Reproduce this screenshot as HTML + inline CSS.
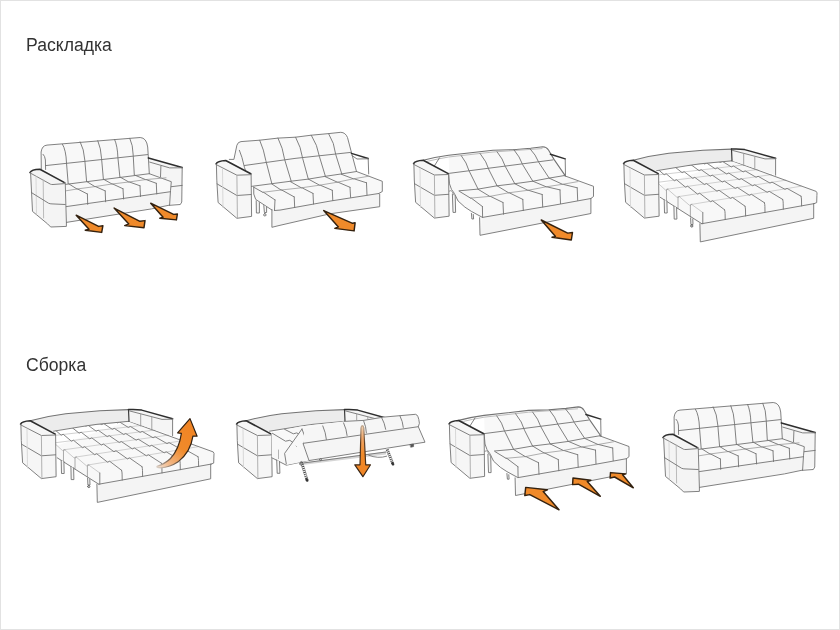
<!DOCTYPE html><html><head><meta charset="utf-8"><style>
html,body{margin:0;padding:0;background:#fff;}
body{width:840px;height:630px;overflow:hidden;position:relative;}
svg{position:absolute;left:0;top:0;}
.t{position:absolute;left:26px;will-change:transform;font-family:"Liberation Sans",sans-serif;font-size:17.6px;color:#333;line-height:1;}
</style></head><body>
<svg width="840" height="630" viewBox="0 0 840 630">
<rect x="0.5" y="0.5" width="839" height="629" fill="#fff" stroke="#e2e2e2" stroke-width="1"/>
<g fill="none" stroke="#737373" stroke-width="0.9" stroke-linejoin="round" stroke-linecap="round">
<g><path d="M41.1,152 Q42,145 47,145 L140,137.5 Q147,138 147.8,148 L149.3,173.5 L65.6,184.4 L45.4,169.3 L41.3,169 Z" fill="#f8f8f8" stroke="none"/><path d="M30,172.5 Q31,169.5 40,169.3 L64.1,182.4 L66.4,222.7 L66.4,226.4 L50.7,227 L47.6,223.9 L32.5,211.4 Z" fill="#f4f4f4" stroke="none"/><path d="M148.4,157.9 L182.2,167.5 L181.7,202 L170,204.6 L170.5,190.8 L171.3,181.7 L149.3,173.5 Z" fill="#f5f5f5" stroke="none"/><path d="M65.6,184.4 L149.3,173.7 L171.3,181.7 L170.5,191.7 L66.3,206.6 Z" fill="#f8f8f8" stroke="none"/><path d="M66.3,206.6 L170.5,191.7 L169.6,205.1 L66.4,222.7 Z" fill="#f4f4f4" stroke="none"/><path d="M41.3,169 L41.1,152 Q42,145.5 47,145.1 L140.2,137.5 Q146.5,137.8 147.7,147 L148.4,157.9 L149.3,173.5" fill="none"/><path d="M43.1,154.3 Q45,156 45.4,160 L45.6,169.5" fill="none"/><path d="M45.4,165.6 L147.6,154.6" fill="none"/><path d="M62.5,144.3 Q66,150 66.5,163 L68.2,183.7" fill="none"/><path d="M80.2,141.9 Q84,149 84.8,160.1 L86.6,181.6" fill="none"/><path d="M97.8,140.7 Q101,148 101.6,158.9 L103.4,179.4" fill="none"/><path d="M114.6,139.5 Q117.5,146 117.9,157.6 L119.9,177.3" fill="none"/><path d="M129.8,138.3 Q133,145 133.2,155.1 L134.3,175" fill="none"/><path d="M65.6,184.4 L149.3,173.7" fill="none"/><path d="M149.3,173.7 L171.3,181.7 L170.5,190.8 L169.6,205.1" fill="none"/><path d="M66.3,206.6 L170.5,191.7" fill="none"/><path d="M66.4,222.4 L151.4,208.9 L169.6,205.1" fill="none"/><path d="M87.4,194 L87.7,204.4" fill="none"/><path d="M105.2,190.9 L105.6,201.8" fill="none"/><path d="M123,188.75 L123.6,199" fill="none"/><path d="M140,185.8 L140.5,196.5" fill="none"/><path d="M156.3,183.3 L156.75,194" fill="none"/><path d="M66.00,190.80 L77.00,189.00 L94.90,186.60 L112.00,184.00 L128.80,182.00 L145.50,179.60 L166.00,177.80" fill="none" stroke="#9a9a9a" stroke-width="0.8"/><path d="M69.00,184.00 L77.00,189.00 L77.90,189.10 L87.40,194.00" fill="none"/><path d="M87.00,181.70 L94.90,186.60 L95.80,186.70 L105.20,190.90" fill="none"/><path d="M104.00,179.50 L112.00,184.00 L112.90,184.10 L123.00,188.75" fill="none"/><path d="M120.50,177.30 L128.80,182.00 L129.70,182.10 L140.00,185.80" fill="none"/><path d="M135.00,175.20 L145.50,179.60 L146.40,179.70 L156.30,183.30" fill="none"/><path d="M30,172.5 Q31.5,169.6 39.9,169.3 L64.1,182.4" fill="none" stroke="#2e2e2e" stroke-width="1.6"/><path d="M30.8,173.3 L50.5,184.2 Q51.5,184.6 53,184.5 L64.9,183.6" fill="none"/><path d="M30.6,173 L32.5,211.4 L47.6,223.9 L50.7,227 L66.4,226.4 L66.4,222.7 L65.2,182.5" fill="none"/><path d="M43.2,180 L43.6,218" fill="none" stroke="#b4b4b4"/><path d="M36,176.5 L36.5,214" fill="none" stroke="#d4d4d4"/><path d="M31.3,192.5 L48.5,203.2 Q50,203.9 52,203.9 L65.2,204.5" fill="none"/><path d="M148.4,157.9 L182.2,167.5" fill="none" stroke="#2e2e2e" stroke-width="1.6"/><path d="M149.7,162.1 L169.7,167.9 L182.2,167.8" fill="none"/><path d="M160.9,166.25 L160.5,176.7" fill="none"/><path d="M182.2,167.5 L181.75,202 L180.3,204.5 L169.6,205.3" fill="none"/><path d="M171.3,186.7 L182.2,185.4" fill="none"/></g>
<g><path d="M76.20,215.20 L98.60,226.40 L102.90,225.70 L101.70,232.40 L85.20,230.20 L89.00,229.30 Z" fill="#f08a2a" stroke="#33210f" stroke-width="1.45"/><path d="M114.10,208.10 L139.90,221.30 L145.00,220.60 L144.00,227.70 L124.70,225.60 L128.80,223.90 Z" fill="#f08a2a" stroke="#33210f" stroke-width="1.45"/><path d="M150.70,203.20 L173.60,214.40 L177.40,214.00 L176.40,219.90 L159.80,218.20 L163.10,217.30 Z" fill="#f08a2a" stroke="#33210f" stroke-width="1.45"/></g>
<g transform="translate(633,265)"><path d="M41.1,152 Q42,145 47,145 L140,137.5 Q147,138 147.8,148 L149.3,173.5 L65.6,184.4 L45.4,169.3 L41.3,169 Z" fill="#f8f8f8" stroke="none"/><path d="M30,172.5 Q31,169.5 40,169.3 L64.1,182.4 L66.4,222.7 L66.4,226.4 L50.7,227 L47.6,223.9 L32.5,211.4 Z" fill="#f4f4f4" stroke="none"/><path d="M148.4,157.9 L182.2,167.5 L181.7,202 L170,204.6 L170.5,190.8 L171.3,181.7 L149.3,173.5 Z" fill="#f5f5f5" stroke="none"/><path d="M65.6,184.4 L149.3,173.7 L171.3,181.7 L170.5,191.7 L66.3,206.6 Z" fill="#f8f8f8" stroke="none"/><path d="M66.3,206.6 L170.5,191.7 L169.6,205.1 L66.4,222.7 Z" fill="#f4f4f4" stroke="none"/><path d="M41.3,169 L41.1,152 Q42,145.5 47,145.1 L140.2,137.5 Q146.5,137.8 147.7,147 L148.4,157.9 L149.3,173.5" fill="none"/><path d="M43.1,154.3 Q45,156 45.4,160 L45.6,169.5" fill="none"/><path d="M45.4,165.6 L147.6,154.6" fill="none"/><path d="M62.5,144.3 Q66,150 66.5,163 L68.2,183.7" fill="none"/><path d="M80.2,141.9 Q84,149 84.8,160.1 L86.6,181.6" fill="none"/><path d="M97.8,140.7 Q101,148 101.6,158.9 L103.4,179.4" fill="none"/><path d="M114.6,139.5 Q117.5,146 117.9,157.6 L119.9,177.3" fill="none"/><path d="M129.8,138.3 Q133,145 133.2,155.1 L134.3,175" fill="none"/><path d="M65.6,184.4 L149.3,173.7" fill="none"/><path d="M149.3,173.7 L171.3,181.7 L170.5,190.8 L169.6,205.1" fill="none"/><path d="M66.3,206.6 L170.5,191.7" fill="none"/><path d="M66.4,222.4 L151.4,208.9 L169.6,205.1" fill="none"/><path d="M87.4,194 L87.7,204.4" fill="none"/><path d="M105.2,190.9 L105.6,201.8" fill="none"/><path d="M123,188.75 L123.6,199" fill="none"/><path d="M140,185.8 L140.5,196.5" fill="none"/><path d="M156.3,183.3 L156.75,194" fill="none"/><path d="M66.00,190.80 L77.00,189.00 L94.90,186.60 L112.00,184.00 L128.80,182.00 L145.50,179.60 L166.00,177.80" fill="none" stroke="#9a9a9a" stroke-width="0.8"/><path d="M69.00,184.00 L77.00,189.00 L77.90,189.10 L87.40,194.00" fill="none"/><path d="M87.00,181.70 L94.90,186.60 L95.80,186.70 L105.20,190.90" fill="none"/><path d="M104.00,179.50 L112.00,184.00 L112.90,184.10 L123.00,188.75" fill="none"/><path d="M120.50,177.30 L128.80,182.00 L129.70,182.10 L140.00,185.80" fill="none"/><path d="M135.00,175.20 L145.50,179.60 L146.40,179.70 L156.30,183.30" fill="none"/><path d="M30,172.5 Q31.5,169.6 39.9,169.3 L64.1,182.4" fill="none" stroke="#2e2e2e" stroke-width="1.6"/><path d="M30.8,173.3 L50.5,184.2 Q51.5,184.6 53,184.5 L64.9,183.6" fill="none"/><path d="M30.6,173 L32.5,211.4 L47.6,223.9 L50.7,227 L66.4,226.4 L66.4,222.7 L65.2,182.5" fill="none"/><path d="M43.2,180 L43.6,218" fill="none" stroke="#b4b4b4"/><path d="M36,176.5 L36.5,214" fill="none" stroke="#d4d4d4"/><path d="M31.3,192.5 L48.5,203.2 Q50,203.9 52,203.9 L65.2,204.5" fill="none"/><path d="M148.4,157.9 L182.2,167.5" fill="none" stroke="#2e2e2e" stroke-width="1.6"/><path d="M149.7,162.1 L169.7,167.9 L182.2,167.8" fill="none"/><path d="M160.9,166.25 L160.5,176.7" fill="none"/><path d="M182.2,167.5 L181.75,202 L180.3,204.5 L169.6,205.3" fill="none"/><path d="M171.3,186.7 L182.2,185.4" fill="none"/></g>
<g><path d="M233.9,159.4 L236.9,145.2 Q238,141.8 241,141.6 L340.8,132.3 Q345.5,132.5 347.5,137.5 L350.9,150.4 L356.5,171.5 L252.6,186.3 L244.5,170 Z" fill="#f8f8f8" stroke="none"/><path d="M252.6,186.3 L356.5,171.5 L382.3,181.3 L382.3,191.5 L378.7,193.5 L271.9,210 L255.7,199.4 Q252.8,195 253.7,187.2 Z" fill="#f8f8f8" stroke="none"/><path d="M271.9,210 L330,201.1 L378.7,193.5 L379.7,206.7 L330,213.8 L280,225.3 L271.9,227.3 Z" fill="#f4f4f4" stroke="none"/><path d="M229.3,159.4 L233.9,159.4 L236.9,145.2 Q238,141.8 241,141.6 L259.7,140.2 L278,138.1 L295.6,137.2 L311.3,135.2 L328.6,133.6 L340.8,132.3 Q345.5,132.5 347.5,137.5 L350.9,150.4 L356.5,171.5" fill="none"/><path d="M239.4,150.3 Q242,156 244.5,167.6 L246.5,173" fill="none"/><path d="M244.5,165.5 L295,158.4 L350.9,152.4" fill="none"/><path d="M259.7,140.2 Q264,150 265.8,160.5 L271.9,183.8" fill="none"/><path d="M278,138.1 Q283,148 284.6,159.4 L291.2,181.2" fill="none"/><path d="M295.6,137.2 Q301,147 302.7,158.5 L308.3,179" fill="none"/><path d="M311.3,135.2 Q317.5,145 319.4,156.5 L325.5,176.6" fill="none"/><path d="M328.6,133.6 Q334.5,143 335.7,154.4 L341.8,174" fill="none"/><path d="M250.6,186.5 L290,181.3 L308.4,179.1 L324.7,176.4 L340.9,174 L356.5,171.5" fill="none"/><path d="M356.5,171.5 L382.3,181.3 L382.3,191.5 L378.7,193.5" fill="none"/><path d="M274.5,210.5 L280,210.1 L330,201.1 L378.7,193.5" fill="none"/><path d="M271.9,209.5 L271.9,227.3 L280,225.3 L330,213.8 L379.7,206.7 L379.7,194" fill="none"/><path d="M294.2,196.9 L294.7,207.6" fill="none"/><path d="M313,193.4 L313.5,204" fill="none"/><path d="M332.3,190.3 L332.8,200.5" fill="none"/><path d="M350,187.3 L350.6,197.4" fill="none"/><path d="M366.5,182.8 L367,195" fill="none"/><path d="M275,199.9 L274.5,210.3" fill="none"/><path d="M262.80,192.30 L281.00,190.00 L301.30,187.80 L319.60,185.20 L337.40,182.20 L353.40,178.80 L369.00,176.20" fill="none" stroke="#9a9a9a" stroke-width="0.8"/><path d="M253.70,187.20 L262.80,192.30 L263.70,192.40 L275.00,199.90" fill="none"/><path d="M271.90,184.00 L281.00,190.00 L281.90,190.10 L294.20,196.90" fill="none"/><path d="M290.20,181.50 L301.30,187.80 L302.20,187.90 L313.00,193.40" fill="none"/><path d="M308.40,179.10 L319.60,185.20 L320.50,185.30 L332.30,190.30" fill="none"/><path d="M324.70,176.40 L337.40,182.20 L338.30,182.30 L350.00,187.30" fill="none"/><path d="M341.20,174.20 L353.40,178.80 L354.30,178.90 L366.50,182.80" fill="none"/><path d="M253.7,187.2 Q252.8,195 255.7,199.4 L271.9,210" fill="none"/><path d="M351.4,153.4 L368.2,158.5" fill="none" stroke="#2e2e2e" stroke-width="1.5"/><path d="M351.9,155.5 L357,159 L368.2,158.8" fill="none"/><path d="M368.2,158.5 L368.7,173.9" fill="none"/><path d="M256.2,200.8 L256.4,213 L259.4,213 L259.4,202.6" fill="#f5f5f5"/><path d="M263.8,205.5 L264.4,212.5 L266.6,212.5 L266.6,207.3" fill="#f5f5f5"/><path d="M264.8,213.6 a1.2,1.2 0 1,0 0.1,0" fill="none" stroke="#555"/></g>
<g transform="translate(-407.5,0.2)"><path d="M623.6,163.8 Q625,160.8 633.2,160.3 L658.1,173.5 L659.6,216 L644.4,218.1 L625.6,202.3 Z" fill="#f6f6f6" stroke="none"/><path d="M623.6,163.6 Q625,160.8 633.2,160.3 L658.3,173.6" fill="none" stroke="#2e2e2e" stroke-width="1.6"/><path d="M624.1,164.6 L644.4,175 L658.3,174.5" fill="none"/><path d="M623.9,164 L624.3,180 L625.6,202.3 L644.4,218.1 L659.1,216.2 L658.6,174" fill="none"/><path d="M624.6,183.7 L644.4,195.3 L658.6,194.3" fill="none"/><path d="M644.4,175.3 L644.9,217.5" fill="none" stroke="#a8a8a8"/><path d="M630,168.5 L630.5,207.5" fill="none" stroke="#d4d4d4"/></g>
<g><path d="M323.70,210.60 L352.60,223.30 L355.10,222.80 L354.10,230.90 L334.80,228.40 L338.40,226.90 Z" fill="#f08a2a" stroke="#33210f" stroke-width="1.45"/></g>
<g><path d="M448.6,155.2 L542.8,146.7 Q546.5,146.8 548.5,150 L554,159.4 L565.2,175.6 L593.5,186.3 L593.5,196.5 L590.9,198.5 L590.9,213.5 L480,235.3 L479.6,217.7 L471.4,211.4 L458.1,201 L449.5,183.8 Z" fill="#f8f8f8" stroke="none"/><path d="M482.6,217.4 L590.9,198.5 L590.9,213.5 L480,235.3 Z" fill="#f4f4f4" stroke="none"/><path d="M423.2,160.2 Q435,157 448.6,155.2 L493,150.2 L513.4,149.7 L530.6,148.2 L542.8,146.7 Q546.5,146.8 548.5,150 L554,159.4 L565.2,175.6" fill="none" stroke-width="1.1"/><path d="M426,161.6 Q437,159 448.6,157 L493,152 L542,148.6" fill="none" stroke="#b5b5b5"/><path d="M439.5,157.8 L434.4,165.9" fill="none"/><path d="M448.6,173.3 L449.5,183.8 Q451,190 454.3,193.3 L458.1,201 Q465,208 471.4,211.4 L481.9,217.1" fill="none"/><path d="M449.5,173.3 L553,159.9" fill="none"/><path d="M459,190.8 L478.1,189.1 L497.1,185.8 L514.7,183.7 L532.9,181.2 L549.2,178.1 L564.1,175.6" fill="none"/><path d="M461.3,155.7 Q467,163 468.9,170.5 L478.1,189.1" fill="none"/><path d="M480.1,153.5 Q487,162 489,170 L497,185.7" fill="none"/><path d="M497.1,151.8 Q503,159 505.3,166.5 L514.8,183.7" fill="none"/><path d="M513.9,149.7 Q520,157 522.5,164.4 L532.8,181.2" fill="none"/><path d="M529.6,148.2 Q536,155 538.8,162.4 L549,177.9" fill="none"/><path d="M564.1,175.6 L593.5,186.3 L593.5,196.5 L590.9,198.5" fill="none"/><path d="M482.6,217.4 L530,209.2 L555,205 L590.9,198.5" fill="none"/><path d="M482.4,206.5 L482.6,217.4" fill="none"/><path d="M503,202.5 L503.5,214.2" fill="none"/><path d="M522.8,199.4 L523.3,210.6" fill="none"/><path d="M542.2,194.5 L542.7,207" fill="none"/><path d="M560,189.9 L560.5,203.6" fill="none"/><path d="M577.2,187.8 L577.7,200.5" fill="none"/><path d="M470.50,198.10 L489.80,196.40 L508.60,192.80 L527.90,190.30 L546.20,186.80 L562.50,184.30 L578.00,181.60" fill="none" stroke="#9a9a9a" stroke-width="0.8"/><path d="M459.50,191.40 L470.50,198.10 L471.40,198.20 L482.40,206.50" fill="none"/><path d="M478.10,189.30 L489.80,196.40 L490.70,196.50 L503.00,202.50" fill="none"/><path d="M496.90,185.70 L508.60,192.80 L509.50,192.90 L522.80,199.40" fill="none"/><path d="M514.70,183.70 L527.90,190.30 L528.80,190.40 L542.20,194.50" fill="none"/><path d="M532.90,181.20 L546.20,186.80 L547.10,186.90 L560.00,189.90" fill="none"/><path d="M549.30,178.20 L562.50,184.30 L563.40,184.40 L577.20,187.80" fill="none"/><path d="M479.6,217.7 L480,235.3 L590.9,213.5 L590.9,199" fill="none"/><path d="M550.4,154.3 L565.2,158.9" fill="none" stroke="#2e2e2e" stroke-width="1.5"/><path d="M565.2,158.9 L565.5,176" fill="none"/><path d="M452.4,194 L453,212.4 L455.6,212.4 L455.2,195.5" fill="#f5f5f5"/><path d="M449.3,191 Q451,189.5 452.5,192 L454,195" fill="none" stroke="#888"/><path d="M471.4,213.3 L471.9,219 L473.6,219 L473.3,214.5" fill="#f5f5f5"/></g>
<g transform="translate(-210,0)"><path d="M623.6,163.8 Q625,160.8 633.2,160.3 L658.1,173.5 L659.6,216 L644.4,218.1 L625.6,202.3 Z" fill="#f6f6f6" stroke="none"/><path d="M623.6,163.6 Q625,160.8 633.2,160.3 L658.3,173.6" fill="none" stroke="#2e2e2e" stroke-width="1.6"/><path d="M624.1,164.6 L644.4,175 L658.3,174.5" fill="none"/><path d="M623.9,164 L624.3,180 L625.6,202.3 L644.4,218.1 L659.1,216.2 L658.6,174" fill="none"/><path d="M624.6,183.7 L644.4,195.3 L658.6,194.3" fill="none"/><path d="M644.4,175.3 L644.9,217.5" fill="none" stroke="#a8a8a8"/><path d="M630,168.5 L630.5,207.5" fill="none" stroke="#d4d4d4"/></g>
<g><path d="M541.25,220.00 L567.70,233.10 L572.50,232.50 L571.30,240.00 L552.00,237.30 L555.50,236.40 Z" fill="#f08a2a" stroke="#33210f" stroke-width="1.45"/></g>
<g transform="translate(35.5,260.2)"><path d="M448.6,155.2 L542.8,146.7 Q546.5,146.8 548.5,150 L554,159.4 L565.2,175.6 L593.5,186.3 L593.5,196.5 L590.9,198.5 L590.9,213.5 L480,235.3 L479.6,217.7 L471.4,211.4 L458.1,201 L449.5,183.8 Z" fill="#f8f8f8" stroke="none"/><path d="M482.6,217.4 L590.9,198.5 L590.9,213.5 L480,235.3 Z" fill="#f4f4f4" stroke="none"/><path d="M423.2,160.2 Q435,157 448.6,155.2 L493,150.2 L513.4,149.7 L530.6,148.2 L542.8,146.7 Q546.5,146.8 548.5,150 L554,159.4 L565.2,175.6" fill="none" stroke-width="1.1"/><path d="M426,161.6 Q437,159 448.6,157 L493,152 L542,148.6" fill="none" stroke="#b5b5b5"/><path d="M439.5,157.8 L434.4,165.9" fill="none"/><path d="M448.6,173.3 L449.5,183.8 Q451,190 454.3,193.3 L458.1,201 Q465,208 471.4,211.4 L481.9,217.1" fill="none"/><path d="M449.5,173.3 L553,159.9" fill="none"/><path d="M459,190.8 L478.1,189.1 L497.1,185.8 L514.7,183.7 L532.9,181.2 L549.2,178.1 L564.1,175.6" fill="none"/><path d="M461.3,155.7 Q467,163 468.9,170.5 L478.1,189.1" fill="none"/><path d="M480.1,153.5 Q487,162 489,170 L497,185.7" fill="none"/><path d="M497.1,151.8 Q503,159 505.3,166.5 L514.8,183.7" fill="none"/><path d="M513.9,149.7 Q520,157 522.5,164.4 L532.8,181.2" fill="none"/><path d="M529.6,148.2 Q536,155 538.8,162.4 L549,177.9" fill="none"/><path d="M564.1,175.6 L593.5,186.3 L593.5,196.5 L590.9,198.5" fill="none"/><path d="M482.6,217.4 L530,209.2 L555,205 L590.9,198.5" fill="none"/><path d="M482.4,206.5 L482.6,217.4" fill="none"/><path d="M503,202.5 L503.5,214.2" fill="none"/><path d="M522.8,199.4 L523.3,210.6" fill="none"/><path d="M542.2,194.5 L542.7,207" fill="none"/><path d="M560,189.9 L560.5,203.6" fill="none"/><path d="M577.2,187.8 L577.7,200.5" fill="none"/><path d="M470.50,198.10 L489.80,196.40 L508.60,192.80 L527.90,190.30 L546.20,186.80 L562.50,184.30 L578.00,181.60" fill="none" stroke="#9a9a9a" stroke-width="0.8"/><path d="M459.50,191.40 L470.50,198.10 L471.40,198.20 L482.40,206.50" fill="none"/><path d="M478.10,189.30 L489.80,196.40 L490.70,196.50 L503.00,202.50" fill="none"/><path d="M496.90,185.70 L508.60,192.80 L509.50,192.90 L522.80,199.40" fill="none"/><path d="M514.70,183.70 L527.90,190.30 L528.80,190.40 L542.20,194.50" fill="none"/><path d="M532.90,181.20 L546.20,186.80 L547.10,186.90 L560.00,189.90" fill="none"/><path d="M549.30,178.20 L562.50,184.30 L563.40,184.40 L577.20,187.80" fill="none"/><path d="M479.6,217.7 L480,235.3 L590.9,213.5 L590.9,199" fill="none"/><path d="M550.4,154.3 L565.2,158.9" fill="none" stroke="#2e2e2e" stroke-width="1.5"/><path d="M565.2,158.9 L565.5,176" fill="none"/><path d="M452.4,194 L453,212.4 L455.6,212.4 L455.2,195.5" fill="#f5f5f5"/><path d="M449.3,191 Q451,189.5 452.5,192 L454,195" fill="none" stroke="#888"/><path d="M471.4,213.3 L471.9,219 L473.6,219 L473.3,214.5" fill="#f5f5f5"/></g>
<g transform="translate(-174.5,260.2)"><path d="M623.6,163.8 Q625,160.8 633.2,160.3 L658.1,173.5 L659.6,216 L644.4,218.1 L625.6,202.3 Z" fill="#f6f6f6" stroke="none"/><path d="M623.6,163.6 Q625,160.8 633.2,160.3 L658.3,173.6" fill="none" stroke="#2e2e2e" stroke-width="1.6"/><path d="M624.1,164.6 L644.4,175 L658.3,174.5" fill="none"/><path d="M623.9,164 L624.3,180 L625.6,202.3 L644.4,218.1 L659.1,216.2 L658.6,174" fill="none"/><path d="M624.6,183.7 L644.4,195.3 L658.6,194.3" fill="none"/><path d="M644.4,175.3 L644.9,217.5" fill="none" stroke="#a8a8a8"/><path d="M630,168.5 L630.5,207.5" fill="none" stroke="#d4d4d4"/></g>
<g><path d="M660.2,185 L732,160.8 L816.2,191.4 L816.7,202.6 L813.7,203.6 L813.7,218.3 L700.3,241.9 L699.7,223.7 L660.2,197.3 Z" fill="#f8f8f8" stroke="none"/><path d="M702.8,223.7 L813.7,203.6 L813.7,218.3 L700.3,241.9 L699.7,223.7 Z" fill="#f4f4f4" stroke="none"/><path d="M690.40,204.60 L711.62,201.07 L731.49,197.77 L750.37,194.63 L768.19,191.67 L786.01,188.71 L801.10,186.20" fill="none" stroke="#c2c2c2" stroke-width="0.75"/><path d="M678.00,196.70 L698.65,193.54 L717.97,190.58 L736.35,187.76 L753.68,185.11 L771.02,182.45 L785.70,180.20" fill="none" stroke="#c2c2c2" stroke-width="0.75"/><path d="M666.47,189.35 L686.58,186.53 L705.41,183.88 L723.31,181.37 L740.19,179.00 L757.08,176.63 L771.38,174.62" fill="none" stroke="#c2c2c2" stroke-width="0.75"/><path d="M655.80,182.56 L675.42,180.05 L693.78,177.70 L711.24,175.46 L727.71,173.35 L744.18,171.25 L758.13,169.46" fill="none" stroke="#c2c2c2" stroke-width="0.75"/><path d="M646.01,176.32 L665.17,174.09 L683.11,172.01 L700.16,170.03 L716.25,168.17 L732.34,166.30 L745.97,164.72" fill="none" stroke="#c2c2c2" stroke-width="0.75"/><path d="M636.96,170.55 L655.70,168.59 L673.24,166.76 L689.93,165.02 L705.66,163.38 L721.40,161.73 L734.73,160.34" fill="none" stroke="#c2c2c2" stroke-width="0.75"/><path d="M628.52,165.18 L635.96,171.20 L637.96,170.20 L645.01,176.97 L647.01,175.97 L654.80,183.21 L656.80,182.21 L665.47,190.00 L667.47,189.00 L677.00,197.35 L679.00,196.35 L689.40,205.25 L691.40,204.25 L702.80,212.50" fill="none" stroke="#c4c4c4"/><path d="M646.88,163.47 L654.70,169.24 L656.70,168.24 L664.17,174.74 L666.17,173.74 L674.42,180.70 L676.42,179.70 L685.58,187.18 L687.58,186.18 L697.65,194.19 L699.65,193.19 L710.62,201.72 L712.62,200.72 L724.60,209.81" fill="none" stroke="#767676"/><path d="M664.05,161.87 L672.24,167.41 L674.24,166.41 L682.11,172.66 L684.11,171.66 L692.78,178.35 L694.78,177.35 L704.41,184.53 L706.41,183.53 L716.97,191.23 L718.97,190.23 L730.49,198.42 L732.49,197.42 L745.00,206.17" fill="none" stroke="#767676"/><path d="M680.39,160.35 L688.93,165.67 L690.93,164.67 L699.16,170.68 L701.16,169.68 L710.24,176.11 L712.24,175.11 L722.31,182.02 L724.31,181.02 L735.35,188.41 L737.35,187.41 L749.37,195.28 L751.37,194.28 L764.40,202.70" fill="none" stroke="#767676"/><path d="M695.80,158.91 L704.66,164.03 L706.66,163.03 L715.25,168.82 L717.25,167.82 L726.71,174.00 L728.71,173.00 L739.19,179.65 L741.19,178.65 L752.68,185.76 L754.68,184.76 L767.19,192.32 L769.19,191.32 L782.70,199.43" fill="none" stroke="#767676"/><path d="M711.20,157.48 L720.40,162.38 L722.40,161.38 L731.34,166.95 L733.34,165.95 L743.18,171.90 L745.18,170.90 L756.08,177.28 L758.08,176.28 L770.02,183.10 L772.02,182.10 L785.01,189.36 L787.01,188.36 L801.00,196.17" fill="none" stroke="#767676"/><path d="M724.60,209.81 Q725.10,211.61 725.10,213.61 L725.20,219.62" fill="none"/><path d="M745.00,206.17 Q745.50,207.97 745.50,209.97 L745.60,215.97" fill="none"/><path d="M764.40,202.70 Q764.90,204.50 764.90,206.50 L765.00,212.51" fill="none"/><path d="M782.70,199.43 Q783.20,201.23 783.20,203.23 L783.30,209.23" fill="none"/><path d="M801.00,196.17 Q801.50,197.97 801.50,199.97 L801.60,205.96" fill="none"/><path d="M690.40,205.40 Q690.60,204.40 691.90,204.30 M690.40,205.40 L690.40,216.47" fill="none" stroke="#a0a0a0"/><path d="M678.00,197.50 Q678.20,196.50 679.50,196.40 M678.00,197.50 L678.00,208.60" fill="none" stroke="#a0a0a0"/><path d="M666.47,190.15 Q666.67,189.15 667.97,189.05 M666.47,190.15 L666.47,201.28" fill="none" stroke="#a0a0a0"/><path d="M732,160.8 L785,180.1 L816.2,191.4 Q817.5,192.3 816.9,195.5 L816.7,202.6 L814.2,203.6" fill="none"/><path d="M701.8,223.7 L814.2,203.6" fill="none"/><path d="M702.8,212.5 L702.8,223.7" fill="none"/><path d="M660.2,197.3 L701.8,223.7" fill="none"/><path d="M699.9,223.7 L700.3,241.9 L813.7,218.3 L813.7,203.6" fill="none"/><path d="M664.2,199.8 L664.5,213 L667.2,213 L666.9000000000001,201.0" fill="#f5f5f5"/><path d="M673.9,206.2 L674.1999999999999,219.1 L676.9,219.1 L676.6,207.39999999999998" fill="#f5f5f5"/><path d="M690.6,217.8 L690.9,224.5 L693,224.5 L692.8,219" fill="#f5f5f5"/><path d="M691.8,226 m-1.1,0 a1.1,1.1 0 1,0 2.2,0 a1.1,1.1 0 1,0 -2.2,0" fill="none" stroke="#555"/><path d="M633.2,160.3 Q650,155.5 668.8,153.2 L703,150.2 L731.5,149.1 L732,160.8 L700,163.8 L689,165.4 L656.6,170.5 L645,172 Z" fill="#ececec" stroke="none"/><path d="M633.2,160.3 Q650,155.5 668.8,153.2 L703,150.2 L731.5,149.1" fill="none" stroke-width="1.1"/><path d="M656.6,170.7 L689,165.4 L700,163.8 L732,160.8" fill="none"/><path d="M731.5,149.1 Q738,148.5 744.7,149.6 L775.6,158.3 L775.6,175 L732,160.8 Z" fill="#f5f5f5" stroke="none"/><path d="M731.5,149.1 L732,160.8" fill="none" stroke="#3c3c3c" stroke-width="1.2"/><path d="M731.5,149.1 Q738,148.5 744.7,149.6 L775.6,158.3" fill="none" stroke="#2e2e2e" stroke-width="1.5"/><path d="M732.5,150.4 L765,158.9 L775.6,158.7" fill="none"/><path d="M775.6,158.3 L775.6,175.2" fill="none"/><path d="M743.7,153.7 L743.7,165.6" fill="none" stroke="#999"/><path d="M754.8,156.8 L754.8,169.4" fill="none" stroke="#999"/><path d="M623.6,163.8 Q625,160.8 633.2,160.3 L658.1,173.5 L659.6,216 L644.4,218.1 L625.6,202.3 Z" fill="#f6f6f6" stroke="none"/><path d="M623.6,163.6 Q625,160.8 633.2,160.3 L658.3,173.6" fill="none" stroke="#2e2e2e" stroke-width="1.6"/><path d="M624.1,164.6 L644.4,175 L658.3,174.5" fill="none"/><path d="M623.9,164 L624.3,180 L625.6,202.3 L644.4,218.1 L659.1,216.2 L658.6,174" fill="none"/><path d="M624.6,183.7 L644.4,195.3 L658.6,194.3" fill="none"/><path d="M644.4,175.3 L644.9,217.5" fill="none" stroke="#a8a8a8"/><path d="M630,168.5 L630.5,207.5" fill="none" stroke="#d4d4d4"/></g>
<g transform="translate(-603,260.5)"><path d="M660.2,185 L732,160.8 L816.2,191.4 L816.7,202.6 L813.7,203.6 L813.7,218.3 L700.3,241.9 L699.7,223.7 L660.2,197.3 Z" fill="#f8f8f8" stroke="none"/><path d="M702.8,223.7 L813.7,203.6 L813.7,218.3 L700.3,241.9 L699.7,223.7 Z" fill="#f4f4f4" stroke="none"/><path d="M690.40,204.60 L711.62,201.07 L731.49,197.77 L750.37,194.63 L768.19,191.67 L786.01,188.71 L801.10,186.20" fill="none" stroke="#c2c2c2" stroke-width="0.75"/><path d="M678.00,196.70 L698.65,193.54 L717.97,190.58 L736.35,187.76 L753.68,185.11 L771.02,182.45 L785.70,180.20" fill="none" stroke="#c2c2c2" stroke-width="0.75"/><path d="M666.47,189.35 L686.58,186.53 L705.41,183.88 L723.31,181.37 L740.19,179.00 L757.08,176.63 L771.38,174.62" fill="none" stroke="#c2c2c2" stroke-width="0.75"/><path d="M655.80,182.56 L675.42,180.05 L693.78,177.70 L711.24,175.46 L727.71,173.35 L744.18,171.25 L758.13,169.46" fill="none" stroke="#c2c2c2" stroke-width="0.75"/><path d="M646.01,176.32 L665.17,174.09 L683.11,172.01 L700.16,170.03 L716.25,168.17 L732.34,166.30 L745.97,164.72" fill="none" stroke="#c2c2c2" stroke-width="0.75"/><path d="M636.96,170.55 L655.70,168.59 L673.24,166.76 L689.93,165.02 L705.66,163.38 L721.40,161.73 L734.73,160.34" fill="none" stroke="#c2c2c2" stroke-width="0.75"/><path d="M628.52,165.18 L635.96,171.20 L637.96,170.20 L645.01,176.97 L647.01,175.97 L654.80,183.21 L656.80,182.21 L665.47,190.00 L667.47,189.00 L677.00,197.35 L679.00,196.35 L689.40,205.25 L691.40,204.25 L702.80,212.50" fill="none" stroke="#c4c4c4"/><path d="M646.88,163.47 L654.70,169.24 L656.70,168.24 L664.17,174.74 L666.17,173.74 L674.42,180.70 L676.42,179.70 L685.58,187.18 L687.58,186.18 L697.65,194.19 L699.65,193.19 L710.62,201.72 L712.62,200.72 L724.60,209.81" fill="none" stroke="#767676"/><path d="M664.05,161.87 L672.24,167.41 L674.24,166.41 L682.11,172.66 L684.11,171.66 L692.78,178.35 L694.78,177.35 L704.41,184.53 L706.41,183.53 L716.97,191.23 L718.97,190.23 L730.49,198.42 L732.49,197.42 L745.00,206.17" fill="none" stroke="#767676"/><path d="M680.39,160.35 L688.93,165.67 L690.93,164.67 L699.16,170.68 L701.16,169.68 L710.24,176.11 L712.24,175.11 L722.31,182.02 L724.31,181.02 L735.35,188.41 L737.35,187.41 L749.37,195.28 L751.37,194.28 L764.40,202.70" fill="none" stroke="#767676"/><path d="M695.80,158.91 L704.66,164.03 L706.66,163.03 L715.25,168.82 L717.25,167.82 L726.71,174.00 L728.71,173.00 L739.19,179.65 L741.19,178.65 L752.68,185.76 L754.68,184.76 L767.19,192.32 L769.19,191.32 L782.70,199.43" fill="none" stroke="#767676"/><path d="M711.20,157.48 L720.40,162.38 L722.40,161.38 L731.34,166.95 L733.34,165.95 L743.18,171.90 L745.18,170.90 L756.08,177.28 L758.08,176.28 L770.02,183.10 L772.02,182.10 L785.01,189.36 L787.01,188.36 L801.00,196.17" fill="none" stroke="#767676"/><path d="M724.60,209.81 Q725.10,211.61 725.10,213.61 L725.20,219.62" fill="none"/><path d="M745.00,206.17 Q745.50,207.97 745.50,209.97 L745.60,215.97" fill="none"/><path d="M764.40,202.70 Q764.90,204.50 764.90,206.50 L765.00,212.51" fill="none"/><path d="M782.70,199.43 Q783.20,201.23 783.20,203.23 L783.30,209.23" fill="none"/><path d="M801.00,196.17 Q801.50,197.97 801.50,199.97 L801.60,205.96" fill="none"/><path d="M690.40,205.40 Q690.60,204.40 691.90,204.30 M690.40,205.40 L690.40,216.47" fill="none" stroke="#a0a0a0"/><path d="M678.00,197.50 Q678.20,196.50 679.50,196.40 M678.00,197.50 L678.00,208.60" fill="none" stroke="#a0a0a0"/><path d="M666.47,190.15 Q666.67,189.15 667.97,189.05 M666.47,190.15 L666.47,201.28" fill="none" stroke="#a0a0a0"/><path d="M732,160.8 L785,180.1 L816.2,191.4 Q817.5,192.3 816.9,195.5 L816.7,202.6 L814.2,203.6" fill="none"/><path d="M701.8,223.7 L814.2,203.6" fill="none"/><path d="M702.8,212.5 L702.8,223.7" fill="none"/><path d="M660.2,197.3 L701.8,223.7" fill="none"/><path d="M699.9,223.7 L700.3,241.9 L813.7,218.3 L813.7,203.6" fill="none"/><path d="M664.2,199.8 L664.5,213 L667.2,213 L666.9000000000001,201.0" fill="#f5f5f5"/><path d="M673.9,206.2 L674.1999999999999,219.1 L676.9,219.1 L676.6,207.39999999999998" fill="#f5f5f5"/><path d="M690.6,217.8 L690.9,224.5 L693,224.5 L692.8,219" fill="#f5f5f5"/><path d="M691.8,226 m-1.1,0 a1.1,1.1 0 1,0 2.2,0 a1.1,1.1 0 1,0 -2.2,0" fill="none" stroke="#555"/><path d="M633.2,160.3 Q650,155.5 668.8,153.2 L703,150.2 L731.5,149.1 L732,160.8 L700,163.8 L689,165.4 L656.6,170.5 L645,172 Z" fill="#ececec" stroke="none"/><path d="M633.2,160.3 Q650,155.5 668.8,153.2 L703,150.2 L731.5,149.1" fill="none" stroke-width="1.1"/><path d="M656.6,170.7 L689,165.4 L700,163.8 L732,160.8" fill="none"/><path d="M731.5,149.1 Q738,148.5 744.7,149.6 L775.6,158.3 L775.6,175 L732,160.8 Z" fill="#f5f5f5" stroke="none"/><path d="M731.5,149.1 L732,160.8" fill="none" stroke="#3c3c3c" stroke-width="1.2"/><path d="M731.5,149.1 Q738,148.5 744.7,149.6 L775.6,158.3" fill="none" stroke="#2e2e2e" stroke-width="1.5"/><path d="M732.5,150.4 L765,158.9 L775.6,158.7" fill="none"/><path d="M775.6,158.3 L775.6,175.2" fill="none"/><path d="M743.7,153.7 L743.7,165.6" fill="none" stroke="#999"/><path d="M754.8,156.8 L754.8,169.4" fill="none" stroke="#999"/><path d="M623.6,163.8 Q625,160.8 633.2,160.3 L658.1,173.5 L659.6,216 L644.4,218.1 L625.6,202.3 Z" fill="#f6f6f6" stroke="none"/><path d="M623.6,163.6 Q625,160.8 633.2,160.3 L658.3,173.6" fill="none" stroke="#2e2e2e" stroke-width="1.6"/><path d="M624.1,164.6 L644.4,175 L658.3,174.5" fill="none"/><path d="M623.9,164 L624.3,180 L625.6,202.3 L644.4,218.1 L659.1,216.2 L658.6,174" fill="none"/><path d="M624.6,183.7 L644.4,195.3 L658.6,194.3" fill="none"/><path d="M644.4,175.3 L644.9,217.5" fill="none" stroke="#a8a8a8"/><path d="M630,168.5 L630.5,207.5" fill="none" stroke="#d4d4d4"/></g>
<g><defs><linearGradient id="cag" gradientUnits="userSpaceOnUse" x1="190" y1="425" x2="157" y2="468"><stop offset="0" stop-color="#f08424"/><stop offset="0.45" stop-color="#f08a2a"/><stop offset="0.8" stop-color="#f2b888"/><stop offset="1" stop-color="#f0e2d6"/></linearGradient><linearGradient id="cas" gradientUnits="userSpaceOnUse" x1="190" y1="425" x2="157" y2="468"><stop offset="0" stop-color="#2e1f12"/><stop offset="0.55" stop-color="#3a2614"/><stop offset="0.85" stop-color="#a08a78"/><stop offset="1" stop-color="#e0d6cc"/></linearGradient></defs><path d="M190,418.6 L197.1,436.2 L192.9,436.2 C191.5,446 186,455.5 178.6,461.4 Q170,467.2 160.5,467.8 Q155.8,467.6 157.1,466.4 Q165.5,463.5 170.5,458.5 C176.5,452 180,443 181.4,433.4 L177.6,432.9 Z" fill="url(#cag)" stroke="url(#cas)" stroke-width="1.2"/></g>
<g transform="translate(-387,260.5)"><path d="M633.2,160.3 Q650,155.5 668.8,153.2 L703,150.2 L731.5,149.1 L732,160.8 L700,163.8 L689,165.4 L656.6,170.5 L645,172 Z" fill="#ececec" stroke="none"/><path d="M633.2,160.3 Q650,155.5 668.8,153.2 L703,150.2 L731.5,149.1" fill="none" stroke-width="1.1"/><path d="M656.6,170.7 L689,165.4 L700,163.8 L732,160.8" fill="none"/></g>
<g transform="translate(-387,260.5)"><path d="M731.5,149.1 Q738,148.5 744.7,149.6 L775.6,158.3 L775.6,175 L732,160.8 Z" fill="#f5f5f5" stroke="none"/><path d="M731.5,149.1 L732,160.8" fill="none" stroke="#3c3c3c" stroke-width="1.2"/><path d="M731.5,149.1 Q738,148.5 744.7,149.6 L775.6,158.3" fill="none" stroke="#2e2e2e" stroke-width="1.5"/><path d="M732.5,150.4 L765,158.9 L775.6,158.7" fill="none"/><path d="M775.6,158.3 L775.6,175.2" fill="none"/><path d="M743.7,153.7 L743.7,165.6" fill="none" stroke="#999"/><path d="M754.8,156.8 L754.8,169.4" fill="none" stroke="#999"/></g>
<g transform="translate(-387,260.5)"><path d="M623.6,163.8 Q625,160.8 633.2,160.3 L658.1,173.5 L659.6,216 L644.4,218.1 L625.6,202.3 Z" fill="#f6f6f6" stroke="none"/><path d="M623.6,163.6 Q625,160.8 633.2,160.3 L658.3,173.6" fill="none" stroke="#2e2e2e" stroke-width="1.6"/><path d="M624.1,164.6 L644.4,175 L658.3,174.5" fill="none"/><path d="M623.9,164 L624.3,180 L625.6,202.3 L644.4,218.1 L659.1,216.2 L658.6,174" fill="none"/><path d="M624.6,183.7 L644.4,195.3 L658.6,194.3" fill="none"/><path d="M644.4,175.3 L644.9,217.5" fill="none" stroke="#a8a8a8"/><path d="M630,168.5 L630.5,207.5" fill="none" stroke="#d4d4d4"/></g>
<g><path d="M271.5,433 L300,426.4 L344.3,421.4 L415.5,414.3 Q418.5,415 419.4,423.3 L418.3,426.7 L425,442.2 L309.4,460.5 L286.3,465.2 L271.9,457.8 Z" fill="#f8f8f8" stroke="none"/><path d="M272.40,433.30 L285.50,441.20 L289.80,440.30 L296.00,444.50" fill="none"/><path d="M284.50,429.20 L293.30,433.80 L296.80,432.90 L300.00,434.80" fill="none"/><path d="M271.9,457.8 L286.3,465.2 L309,460.4" fill="none"/><path d="M278.5,450 L278.5,458.6" fill="none" stroke="#aaa"/><path d="M300.3,462.8 L386,451.5 L386,454.5 L300.3,465.2 Z" fill="#d6d6d6" stroke="none"/><path d="M300.3,463.4 L386,452" fill="none"/><path d="M368.6,455.2 Q378,459 386.7,456.2" fill="none" stroke="#777"/><path d="M302,429 L284.6,453.4 L286.3,465 L309,460.4 L305.5,438.6 Z" fill="#f8f8f8" stroke="none"/><path d="M302,429 L284.6,453.4 L286.3,464" fill="none"/><path d="M302,429 L305.5,438.6 L303.6,443.5" fill="none"/><path d="M296,446 l0.6,0.6" fill="none" stroke="#aaa"/><path d="M304.2,429 L344.3,421.4 L363.6,420.4 L383.6,417.1 L415.5,414.3 Q418.5,415 419.4,423.3 L418.3,426.7 L303.4,443.3 Z" fill="#f6f6f6" stroke="none"/><path d="M344.3,421.4 L363.6,420.4 L383.6,417.1 L415.5,414.3 Q418.5,414.6 419.4,423.3 L418.3,426.7" fill="none"/><path d="M322.8,425.9 Q325.80,432.70 326.4,439.5" fill="none"/><path d="M343.6,422.9 Q346.55,429.20 347.1,435.5" fill="none"/><path d="M363.6,420.7 Q366.20,426.80 366.4,432.9" fill="none"/><path d="M381.4,417.1 Q384.75,423.20 385.7,429.3" fill="none"/><path d="M400,415.9 Q402.85,421.65 403.3,427.4" fill="none"/><path d="M303.4,443.3 L418.3,426.7 L425,442.2 L309.4,460.5 Z" fill="#f5f5f5"/><path d="M276.7,460 L277.2,473.3 L279.9,473.3 L279.5,461.5" fill="#f5f5f5"/><path d="M301.6,462.4 L307.2,480.5" fill="none" stroke="#bdbdbd" stroke-width="3.0"/><path d="M301.6,462.4 L307.2,480.5" fill="none" stroke="#f4f4f4" stroke-width="1.8"/><g stroke="#444" stroke-width="2.6" stroke-dasharray="0.9 1.1" stroke-linecap="butt"><path d="M301.6,462.4 L307.2,480.5" fill="none"/></g><path d="M306.59999999999997,479.3 L307.2,480.5" fill="none" stroke="#333" stroke-width="2.4"/><path d="M387.2,449.6 L393,464.3" fill="none" stroke="#bdbdbd" stroke-width="3.0"/><path d="M387.2,449.6 L393,464.3" fill="none" stroke="#f4f4f4" stroke-width="1.8"/><g stroke="#444" stroke-width="2.6" stroke-dasharray="0.9 1.1" stroke-linecap="butt"><path d="M387.2,449.6 L393,464.3" fill="none"/></g><path d="M392.4,463.1 L393,464.3" fill="none" stroke="#333" stroke-width="2.4"/><path d="M301.2,462 a1.6,1.6 0 1,0 0.1,0" fill="none" stroke="#555"/><path d="M410.3,444.5 L413.5,444 L413.6,446.6 L411,447.2 Z" fill="#555" stroke="#555" stroke-width="0.6"/><path d="M320.6,459.6 m-1,0 a1,1 0 1,0 2,0 a1,1 0 1,0 -2,0" fill="none" stroke="#666" stroke-width="0.9"/></g>
<g><defs><linearGradient id="vag" x1="0" y1="0" x2="0" y2="1"><stop offset="0" stop-color="#f0d2b4"/><stop offset="0.25" stop-color="#f0a668"/><stop offset="0.55" stop-color="#f08a2a"/><stop offset="1" stop-color="#f08424"/></linearGradient><linearGradient id="vas" x1="0" y1="0" x2="0" y2="1"><stop offset="0" stop-color="#c0a890"/><stop offset="0.35" stop-color="#5a3a20"/><stop offset="1" stop-color="#2e1f12"/></linearGradient></defs><path d="M362.4,425.7 Q363.5,425.8 363.8,428 L365.7,464.8 L370.5,464.8 L362.9,476.7 L354.8,464.8 L360,464.8 L361,428 Q361.2,425.8 362.4,425.7 Z" fill="url(#vag)" stroke="url(#vas)" stroke-width="1.2"/></g>
<g><path d="M525.70,487.40 L547.40,489.80 L543.20,491.60 L559.00,509.80 L529.80,494.60 L524.80,495.50 Z" fill="#f08a2a" stroke="#33210f" stroke-width="1.45"/><path d="M573.00,478.00 L590.90,480.20 L587.30,481.50 L600.30,496.30 L578.40,484.20 L572.60,484.60 Z" fill="#f08a2a" stroke="#33210f" stroke-width="1.45"/><path d="M610.50,472.60 L625.70,473.90 L622.60,474.80 L633.30,487.80 L614.60,477.00 L610.10,478.00 Z" fill="#f08a2a" stroke="#33210f" stroke-width="1.45"/></g>
</g>
</svg>
<div class="t" style="top:37px">Раскладка</div>
<div class="t" style="top:357px">Сборка</div>
</body></html>
